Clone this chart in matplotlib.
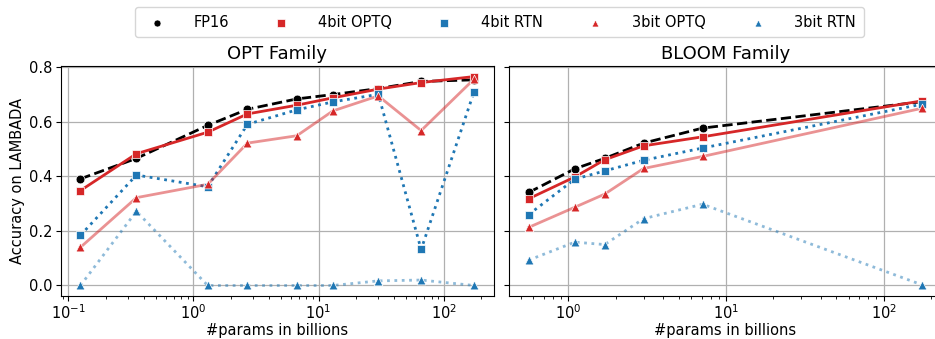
import matplotlib
matplotlib.use("Agg")
import matplotlib.pyplot as plt

# model sizes (billions of params)
opt_sizes = [0.125, 0.35, 1.3, 2.7, 6.7, 13, 30, 66, 175]
bloom_sizes = [0.56, 1.1, 1.7, 3, 7.1, 176]

# LAMBADA accuracy
opt_fp16 = [0.391, 0.466, 0.587, 0.646, 0.684, 0.700, 0.722, 0.748, 0.754]
opt_4bit_optq = [0.348, 0.483, 0.562, 0.629, 0.661, 0.688, 0.720, 0.744, 0.766]
opt_4bit_rtn = [0.184, 0.405, 0.362, 0.591, 0.644, 0.673, 0.701, 0.132, 0.711]
opt_3bit_optq = [0.140, 0.322, 0.371, 0.522, 0.549, 0.640, 0.695, 0.568, 0.757]
opt_3bit_rtn = [0.0, 0.272, 0.0, 0.0, 0.0, 0.0, 0.017, 0.020, 0.0]

bloom_fp16 = [0.341, 0.428, 0.466, 0.522, 0.577, 0.674]
bloom_4bit_optq = [0.318, 0.398, 0.461, 0.512, 0.545, 0.677]
bloom_4bit_rtn = [0.260, 0.390, 0.420, 0.459, 0.504, 0.665]
bloom_3bit_optq = [0.213, 0.287, 0.335, 0.429, 0.473, 0.650]
bloom_3bit_rtn = [0.093, 0.159, 0.150, 0.245, 0.298, 0.002]

labels = ['FP16', '4bit OPTQ', '4bit RTN', '3bit OPTQ', '3bit RTN']
colors = ['black', 'tab:red', 'tab:blue', 'tab:red', 'tab:blue']
markers = ['o', 's', 's', '^', '^']
styles = ['--', '-', ':', '-', ':']
alphas = [1.0, 1.0, 1.0, 0.5, 0.5]

plt.rcParams['font.size'] = 10.5
plt.rcParams['xtick.major.pad'] = 2
plt.rcParams['ytick.major.pad'] = 2.5

fig, axes = plt.subplots(1, 2, figsize=(9.35, 3.39), dpi=100, sharey=True)
# the right panel runs slightly past the right edge in the original
fig.subplots_adjust(left=0.065, right=1.0075, bottom=0.127, top=0.805, wspace=0.035)

panels = [
    (axes[0], 'OPT Family', opt_sizes,
     [opt_fp16, opt_4bit_optq, opt_4bit_rtn, opt_3bit_optq, opt_3bit_rtn]),
    (axes[1], 'BLOOM Family', bloom_sizes,
     [bloom_fp16, bloom_4bit_optq, bloom_4bit_rtn, bloom_3bit_optq, bloom_3bit_rtn]),
]

handles = []
for ax, title, sizes, series in panels:
    ax.set_xscale('log')
    ax.grid(True, color='#b0b0b0', linewidth=0.9)
    ax.set_axisbelow(True)
    hs = []
    for vals, lab, c, m, ls, a in zip(series, labels, colors, markers, styles, alphas):
        ax.plot(sizes, vals, linestyle=ls, color=c, alpha=a, linewidth=2, zorder=2)
        h = ax.scatter(sizes, vals, marker=m, color=c, s=40, edgecolors='white',
                       linewidths=0.5, label=lab, zorder=3)
        hs.append(h)
    handles = hs
    ax.set_title(title, fontsize=13, pad=5)
    ax.set_xlabel('#params in billions', labelpad=0.5)

axes[0].set_ylabel('Accuracy on LAMBADA', labelpad=3)
axes[0].set_yticks([0.0, 0.2, 0.4, 0.6, 0.8])

fig.legend(handles, labels, loc='upper center', ncol=5, bbox_to_anchor=(0.534, 1.0),
           frameon=True, fontsize=10.5, markerscale=0.8, handletextpad=1.5,
           columnspacing=2.6, borderpad=0.5)

fig.savefig('out.png', dpi=100)
